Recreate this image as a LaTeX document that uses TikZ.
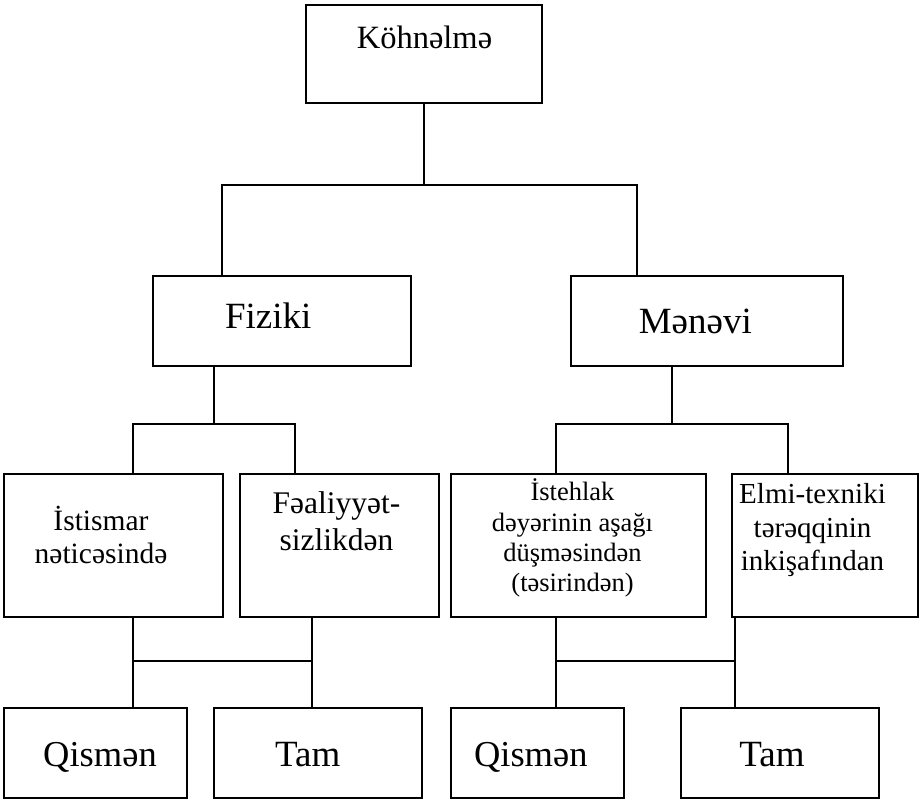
\documentclass[tikz,border=0pt]{standalone}
\usepackage{fontspec}
\setmainfont{Liberation Serif}
\newcommand{\fs}[1]{\fontsize{#1}{#1}\selectfont}
\begin{document}
\begin{tikzpicture}[x=1pt,y=-1pt,
  box/.style={draw,rectangle,line width=1.8pt,inner sep=0pt,outer sep=0pt},
  lbl/.style={anchor=base,inner sep=0pt},
  link/.style={line width=1.8pt}]
\useasboundingbox (0,0) rectangle (920,800);

% boxes
\node[box,minimum width=235.7pt,minimum height=97.7pt] (top) at (423.8,53.8) {};
\node[box,minimum width=257.7pt,minimum height=90pt] (fiz) at (282.2,320.7) {};
\node[box,minimum width=272.6pt,minimum height=90pt] (men) at (707,320.7) {};
\node[box,minimum width=218.7pt,minimum height=142.4pt] (ist) at (113.3,545.5) {};
\node[box,minimum width=199.3pt,minimum height=142.4pt] (fea) at (339.7,545.5) {};
\node[box,minimum width=255pt,minimum height=142.4pt] (ish) at (578.2,545.5) {};
\node[box,minimum width=186.6pt,minimum height=142.4pt] (elm) at (825,545.5) {};
\node[box,minimum width=182.7pt,minimum height=90.3pt] (qa) at (95.3,752.9) {};
\node[box,minimum width=208.3pt,minimum height=90.3pt] (ta) at (318.2,752.9) {};
\node[box,minimum width=173.3pt,minimum height=90.3pt] (qb) at (537.3,752.9) {};
\node[box,minimum width=198.6pt,minimum height=90.3pt] (tb) at (780,752.9) {};

% texts
\node[lbl,font=\fs{32.5}] (tTop) at (424.5,48.3) {Köhnəlmə};
\node[lbl,font=\fs{37}] (tFiz) at (268.3,328) {Fiziki};
\node[lbl,font=\fs{37}] (tMen) at (695.3,333.3) {Mənəvi};

\node[lbl,font=\fs{29.5}] (tIst1) at (101,530) {İstismar};
\node[lbl,font=\fs{29.5}] (tIst2) at (101,563.3) {nəticəsində};

\node[lbl,font=\fs{31.5}] (tFea1) at (336.5,513.3) {Fəaliyyət-};
\node[lbl,font=\fs{31.5}] (tFea2) at (336.5,550) {sizlikdən};

\node[lbl,font=\fs{26.5}] (tIsh1) at (572.5,500.7) {İstehlak};
\node[lbl,font=\fs{26.5}] (tIsh2) at (572.5,531.7) {dəyərinin aşağı};
\node[lbl,font=\fs{26.5}] (tIsh3) at (572.5,561.7) {düşməsindən};
\node[lbl,font=\fs{26.5}] (tIsh4) at (572.5,591.7) {(təsirindən)};

\node[lbl,font=\fs{29}] (tElm1) at (812.5,503.3) {Elmi-texniki};
\node[lbl,font=\fs{29}] (tElm2) at (812.5,537.3) {tərəqqinin};
\node[lbl,font=\fs{29}] (tElm3) at (812.5,570) {inkişafından};

\node[lbl,font=\fs{36.5}] (tQa) at (100,766.7) {Qismən};
\node[lbl,font=\fs{37}] (tTa) at (307.8,766.7) {Tam};
\node[lbl,font=\fs{36.5}] (tQb) at (530.8,766.7) {Qismən};
\node[lbl,font=\fs{37}] (tTb) at (772,766.7) {Tam};

% junction points
\coordinate (j0a) at (221.7,185);
\coordinate (j0b) at (637.3,185);
\coordinate (j1a) at (133.3,423.7);
\coordinate (j1b) at (295,423.7);
\coordinate (j2a) at (556.3,423.7);
\coordinate (j2b) at (788.3,423.7);
\coordinate (j3a) at (133.3,661.3);
\coordinate (j3b) at (311.7,661.3);
\coordinate (j4a) at (556.3,661.3);
\coordinate (j4b) at (735,661.3);

% top level split
\draw[link] (top.south) -- (top.south |- j0a);
\draw[link] (j0a |- fiz.north) -- (j0a) -- (j0b) -- (j0b |- men.north);

% Fiziki split
\draw[link] (fiz.south -| 214.3,0) -- (214.3,423.7);
\draw[link] (j1a |- ist.north) -- (j1a) -- (j1b) -- (j1b |- fea.north);

% Menevi split
\draw[link] (men.south -| 672.3,0) -- (672.3,423.7);
\draw[link] (j2a |- ish.north) -- (j2a) -- (j2b) -- (j2b |- elm.north);

% lower level, left
\draw[link] (j3a |- ist.south) -- (j3a |- qa.north);
\draw[link] (j3b |- fea.south) -- (j3b |- ta.north);
\draw[link] (j3a) -- (j3b);

% lower level, right
\draw[link] (j4a |- ish.south) -- (j4a |- qb.north);
\draw[link] (j4b |- elm.south) -- (j4b |- tb.north);
\draw[link] (j4a) -- (j4b);
\end{tikzpicture}
\end{document}
